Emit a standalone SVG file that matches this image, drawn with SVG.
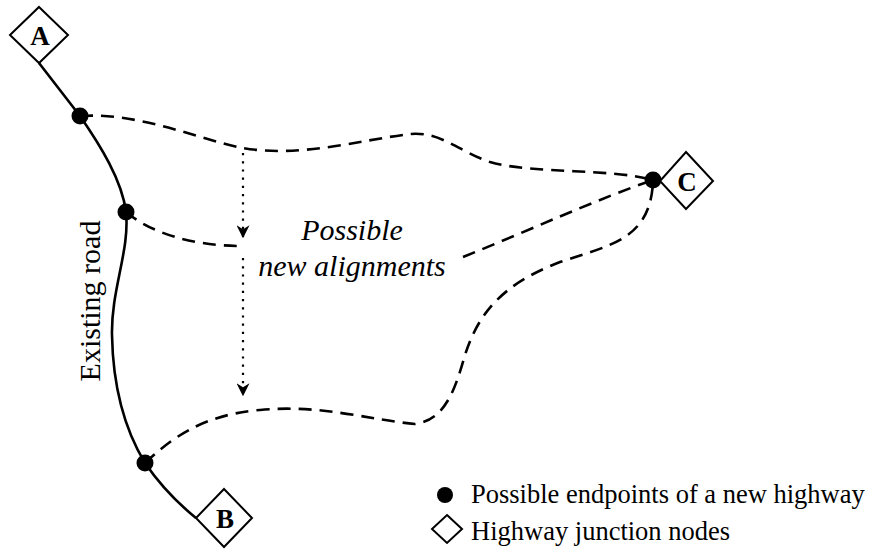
<svg xmlns="http://www.w3.org/2000/svg" width="875" height="552" viewBox="0 0 875 552">
<style>
.road{fill:none;stroke:#000;stroke-width:2.6}
.dash{fill:none;stroke:#000;stroke-width:2.6;stroke-dasharray:13 8}
.dot{fill:none;stroke:#000;stroke-width:2.2;stroke-dasharray:2.2 6}
.node{fill:#fff;stroke:#000;stroke-width:2}
.lbl{font-family:"Liberation Serif",serif;font-weight:bold;font-size:27px;text-anchor:middle}
.txt{font-family:"Liberation Serif",serif;font-size:30px;font-style:italic;text-anchor:middle}
.leg{font-family:"Liberation Serif",serif;font-size:26.5px}
</style>
<defs>
<marker id="arr" viewBox="0 0 10 10" refX="9" refY="5" markerWidth="13" markerHeight="13" markerUnits="userSpaceOnUse" orient="auto">
<path d="M0,0 L10,5 L0,10 L3,5 Z" fill="#000"/>
</marker>
</defs>
<g id="connectors">
<path class="road" d="M39,63 L80,116 C100,145 122,180 126,212 C130,250 111,290 112,335 C113,390 125,430 145,463 C160,485 180,505 196,518"/>
<path class="dash" d="M80,116 C140,112 200,140 243,148 C300,158 360,140 410,134 C440,131 460,152 490,162 C530,174 610,168 653,180"/>
<path class="dash" d="M126,212 C150,232 190,246 243,246"/>
<path class="dash" d="M463,257 C530,230 600,198 653,180"/>
<path class="dash" d="M145,463 C170,440 200,415 260,410 C320,404 370,420 415,424 C445,420 455,390 465,355 C478,315 500,285 560,262 C610,245 650,240 653,182"/>
<path class="dot" d="M243,153 L243,237" marker-end="url(#arr)"/>
<path class="dot" d="M243,258 L243,395" marker-end="url(#arr)"/>
</g>
<g id="endpoints">
<circle cx="80" cy="116" r="8.5"/>
<circle cx="126" cy="212" r="8.5"/>
<circle cx="145" cy="463" r="8.5"/>
<circle cx="653" cy="180" r="8.5"/>
</g>
<g id="nodeA">
<polygon class="node" points="39,7 68,35 39,63 10,35"/>
<text class="lbl" x="40" y="45">A</text>
</g>
<g id="nodeB">
<polygon class="node" points="224,489 252,518 224,547 196,518"/>
<text class="lbl" x="225" y="528">B</text>
</g>
<g id="nodeC">
<polygon class="node" points="686,152 713,181 686,209 660,181"/>
<text class="lbl" x="687" y="191">C</text>
</g>
<g id="labels">
<text class="txt" x="352" y="240">Possible</text>
<text class="txt" x="352" y="276">new alignments</text>
<text font-family="Liberation Serif, serif" font-size="30" text-anchor="middle" transform="translate(100,301) rotate(-90)">Existing road</text>
</g>
<g id="legend">
<circle cx="445" cy="495" r="8"/>
<text class="leg" x="471" y="503">Possible endpoints of a new highway</text>
<polygon class="node" points="447,515 462,529 447,543 432,529" stroke-width="2.5"/>
<text class="leg" x="471" y="540">Highway junction nodes</text>
</g>
</svg>
